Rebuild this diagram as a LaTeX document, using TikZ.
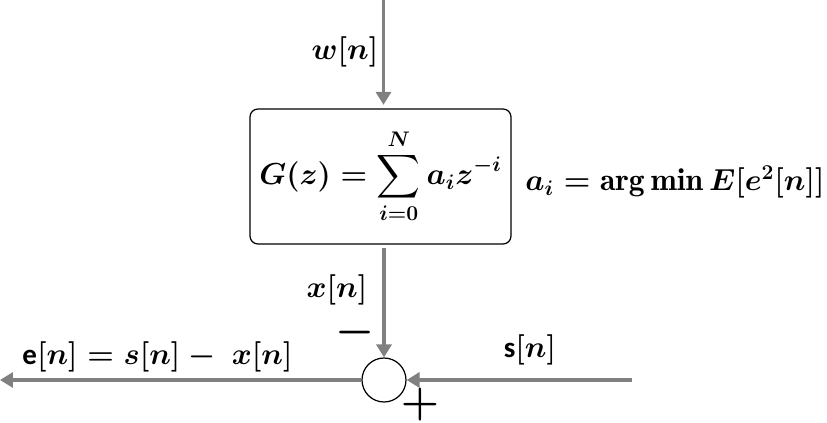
\documentclass[tikz,border=0pt]{standalone}
\usepackage{amsmath}
\usepackage{fontspec}
\setsansfont{Carlito}
\usetikzlibrary{arrows.meta}

\begin{document}
\begin{tikzpicture}[>={Triangle[length=0.26cm,width=0.3cm]},
    font=\fontsize{16.5}{19}\selectfont\boldmath,
    sig/.style={draw=gray, line width=2.2pt},
    sign/.style={font=\fontsize{26}{30}\selectfont\boldmath, inner sep=1pt}]
    \useasboundingbox (0,0) rectangle (16.54,-8.46);

    % blocks
    \node[draw, line width=0.7pt, rounded corners=0.16cm, minimum width=5.22cm, minimum height=2.7cm] (filt) at (7.61,-3.53)
        {$\displaystyle G(z) = \sum_{i=0}^{N} a_i z^{-i}$};
    \node[draw, circle, line width=0.7pt, minimum size=0.88cm, inner sep=0pt] (sum) at (7.68,-7.6) {};
    \coordinate (win) at (7.67,0);
    \coordinate (eout) at (0,-7.6);
    \coordinate (sin) at (12.64,-7.6);

    % arrows
    \draw[sig,->] (win) -- ([yshift=2pt]win |- filt.north);
    \draw[sig,->] ([yshift=-2pt]sum.north |- filt.south) -- (sum.north);
    \draw[sig,->] (sum.west) -- (eout);
    \draw[sig,->] (sin) -- (sum.east);

    % labels
    \node (wlbl) at (6.9,-1.04) {$w[n]$};
    \node (xlbl) at (6.74,-5.8) {$x[n]$};
    \node[font=\fontsize{18}{21}\selectfont\boldmath] (argmin) at (13.5,-3.64) {$a_i = \arg\min E[e^2[n]]$};
    \node (elbl) at (3.15,-7.14) {$\textsf{\bfseries e}[n] = s[n] -\ x[n]$};
    \node (slbl) at (10.6,-7.0) {$\textsf{\bfseries s}[n]$};
    \node[sign] (minus) at (7.1,-6.66) {$-$};
    \node[sign] (plus) at (8.4,-8.1) {$+$};
\end{tikzpicture}
\end{document}
